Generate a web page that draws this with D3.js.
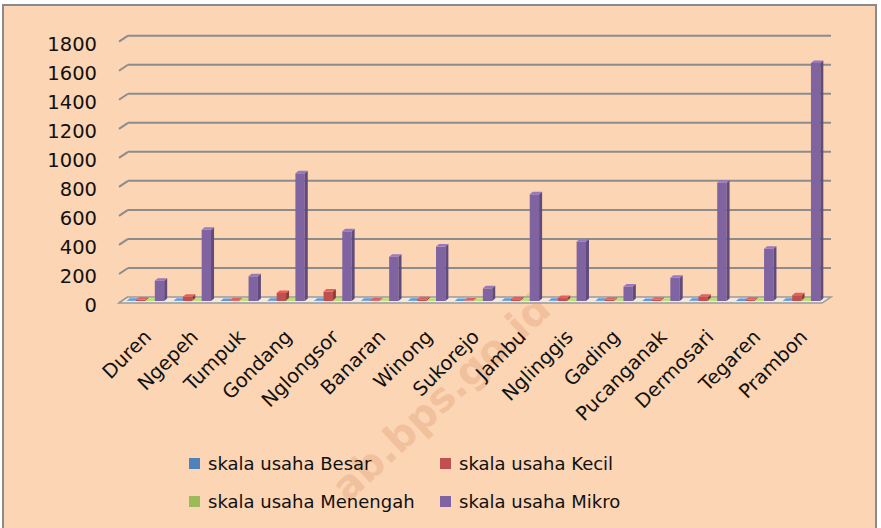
<!DOCTYPE html>
<html>
<head>
<meta charset="utf-8">
<title>Skala usaha per desa</title>
<script src="https://d3js.org/d3.v7.min.js"></script>
<style>
  body { margin: 0; background: #fff; }
  svg { display: block; font-family: "DejaVu Sans", sans-serif; }
  .tick { font-size: 19.5px; fill: #111; }
  .cat { font-size: 19.5px; fill: #111; }
  .leg { font-size: 18px; fill: #111; }
</style>
</head>
<body>
<svg width="881" height="528"></svg>
<script>
// data
var desa = ["Duren", "Ngepeh", "Tumpuk", "Gondang", "Nglongsor", "Banaran", "Winong", "Sukorejo",
            "Jambu", "Nglinggis", "Gading", "Pucanganak", "Dermosari", "Tegaren", "Prambon"];
var seriesNames = ["skala usaha Besar", "skala usaha Kecil", "skala usaha Menengah", "skala usaha Mikro"];
var besar    = [1, 1, 0, 1, 2, 1, 1, 0, 1, 1, 1, 0, 1, 0, 1];
var kecil    = [8, 30, 5, 55, 65, 5, 12, 3, 12, 20, 8, 8, 30, 8, 40];
var menengah = [1, 2, 1, 3, 4, 1, 2, 0, 2, 2, 1, 1, 3, 1, 3];
var mikro    = [140, 490, 170, 880, 480, 305, 375, 87, 735, 410, 100, 160, 815, 360, 1640];
var yTicks = [0, 200, 400, 600, 800, 1000, 1200, 1400, 1600, 1800];

var colors = ["#4F81BD", "#C0504D", "#9BBB59", "#8064A2"];
var values = [besar, kecil, menengah, mikro];

var svg = d3.select("svg");

// background + frame
svg.append("rect").attr("x", 3).attr("y", 5).attr("width", 873).attr("height", 540)
  .attr("fill", "#FCD5B4").attr("stroke", "#8a8a8a").attr("stroke-width", 2);

// watermark (behind the chart)
svg.append("text")
  .attr("transform", "translate(553,312) rotate(-43)")
  .attr("text-anchor", "end")
  .attr("font-size", 40).attr("font-weight", "bold")
  .attr("fill", "#d9956a").attr("opacity", 0.3)
  .text("ab.bps.go.id");

// 3d depth of the wall
var depthX = 9, depthY = -6;
var floorL = 119, floorR = 822, base = 303;

var y = d3.scaleLinear().domain([0, 1800]).range([base, base - 261.3]);
var x0 = d3.scaleBand().domain(desa).range([floorL, floorR]).paddingInner(0.2).paddingOuter(0.1);
var x1 = d3.scaleBand().domain(d3.range(4)).range([0, x0.bandwidth()]);

// gridlines on back wall
var grid = svg.append("g");
yTicks.forEach(function(t) {
  if (t > 0) {
    grid.append("line")
      .attr("x1", floorL + depthX).attr("x2", floorR + depthX)
      .attr("y1", y(t) + depthY).attr("y2", y(t) + depthY)
      .attr("stroke", "#8c8c8c").attr("stroke-width", 2);
  }
  grid.append("line")
    .attr("x1", floorL).attr("y1", y(t))
    .attr("x2", floorL + depthX).attr("y2", y(t) + depthY)
    .attr("stroke", "#8c8c8c").attr("stroke-width", 2);
  svg.append("text").attr("class", "tick")
    .attr("x", 97).attr("y", y(t) + 2).attr("dy", "0.35em")
    .attr("text-anchor", "end").text(t);
});

// floor
svg.append("polygon")
  .attr("points", [[floorL, base], [floorR, base], [floorR + depthX, base + depthY], [floorL + depthX, base + depthY]].join(" "))
  .attr("fill", "#F3EADF").attr("stroke", "#9a9a9a").attr("stroke-width", 1.5);

// bars
var bx = 3, by = -2, bdx = 3, bdy = -2.5;
var bars = svg.append("g");
values.forEach(function(vals, s) {
  var c = d3.color(colors[s]);
  vals.forEach(function(v, i) {
    var w = x1.bandwidth();
    var xl = x0(desa[i]) + x1(s) + bx;
    var yb = y(0) + by, yt = y(v) + by;
    var g = bars.append("g");
    g.append("rect").attr("x", xl).attr("y", yt).attr("width", w).attr("height", yb - yt)
      .attr("fill", c.toString());
    g.append("polygon")
      .attr("points", [[xl + w, yt], [xl + w + bdx, yt + bdy], [xl + w + bdx, yb + bdy], [xl + w, yb]].join(" "))
      .attr("fill", c.darker(0.8).toString());
    g.append("polygon")
      .attr("points", [[xl, yt], [xl + bdx, yt + bdy], [xl + w + bdx, yt + bdy], [xl + w, yt]].join(" "))
      .attr("fill", c.brighter(0.5).toString());
  });
});

// category labels
desa.forEach(function(d) {
  var cx = x0(d) + x0.bandwidth() / 2 + bx + 7;
  svg.append("text").attr("class", "cat")
    .attr("text-anchor", "end")
    .attr("transform", "translate(" + cx + ",338) rotate(-45)")
    .text(d);
});

// legend
var legPos = [[189, 458], [440, 458], [189, 496], [440, 496]];
seriesNames.forEach(function(n, s) {
  var p = legPos[s];
  svg.append("rect").attr("x", p[0]).attr("y", p[1]).attr("width", 11).attr("height", 11)
    .attr("fill", colors[s]);
  svg.append("text").attr("class", "leg")
    .attr("x", p[0] + 19).attr("y", p[1] + 5.5).attr("dy", "0.35em").text(n);
});
</script>
</body>
</html>
